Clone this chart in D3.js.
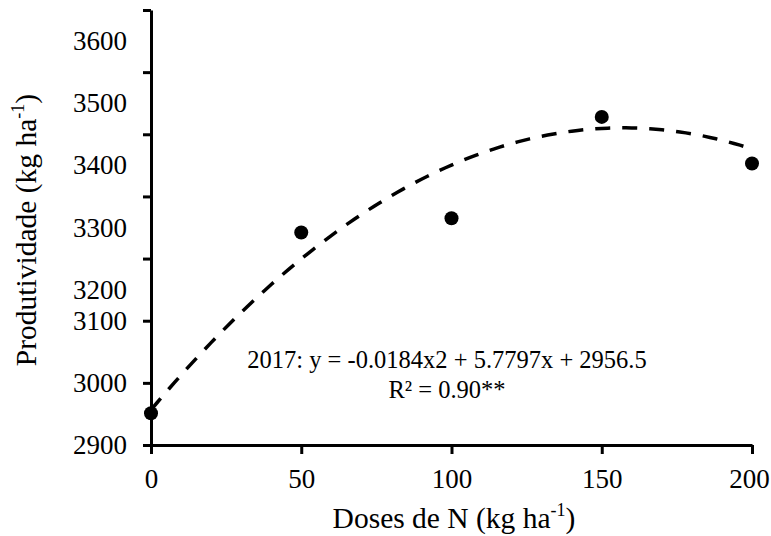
<!DOCTYPE html>
<html>
<head>
<meta charset="utf-8">
<script src="https://cdn.jsdelivr.net/npm/d3@7"></script>
<style>
  body { margin: 0; background: #fff; }
  svg text { font-family: "Liberation Serif", "Times New Roman", serif; fill: #000; }
</style>
</head>
<body>
<div class="chart"></div>
<script>
// doses (kg/ha) and yield readings
var doses = [0, 50, 100, 150, 200];
var yields = [2951, 3242, 3265, 3428, 3353];
// quadratic fit: a*x^2 + b*x + c
var coef = [-0.0184, 5.7797, 2956.5];
var xTicks = [0, 50, 100, 150, 200];
var yTicks = [2900, 3000, 3100, 3200, 3300, 3400, 3500, 3600];
var eqText = "2017: y = -0.0184x2 + 5.7797x + 2956.5";
var r2Text = "R² = 0.90**";

var W = 771, H = 536;
var margin = { top: 10, right: 19, bottom: 91, left: 151 };
var width = W - margin.left - margin.right,
    height = H - margin.top - margin.bottom;

var x = d3.scaleLinear().domain([0, 200]).range([0, width]);
var y = d3.scaleLinear().domain([2900, 3600]).range([height, 0]);

var svg = d3.select(".chart").append("svg")
    .attr("width", W)
    .attr("height", H)
    .append("g")
    .attr("transform", "translate(" + margin.left + "," + margin.top + ")");

//************************************************************
// axes
//************************************************************
var xAxis = d3.axisBottom(x)
    .tickValues(xTicks)
    .tickSize(9)
    .tickSizeOuter(0)
    .tickPadding(10)
    .tickFormat(d3.format("d"));

var yAxis = d3.axisLeft(y)
    .tickValues(yTicks)
    .tickSize(8)
    .tickSizeOuter(0)
    .tickPadding(16)
    .tickFormat(d3.format("d"));

var gx = svg.append("g")
    .attr("transform", "translate(0," + height + ")")
    .call(xAxis);

var gy = svg.append("g").call(yAxis);

[gx, gy].forEach(function (g) {
    g.attr("font-family", null);
    g.select(".domain").attr("stroke", "#000").attr("stroke-width", 3);
    g.selectAll(".tick line").attr("stroke", "#000").attr("stroke-width", 3);
    g.selectAll(".tick text").attr("font-size", 27);
});

// upper labels sit half a step below their ticks in the original
gy.selectAll(".tick text")
    .attr("dy", "0.32em")
    .attr("y", function (d) { return d >= 3200 ? y(d - 50) - y(d) : 0; });

// last label pulled in a little so it stays inside the page
gx.selectAll(".tick text")
    .attr("dy", "0.9em")
    .attr("dx", function (d) { return d === 200 ? -3 : 0; });

//************************************************************
// trend line
//************************************************************
var fit = [];
for (var v = 0; v <= 200; v += 2) {
    fit.push({ x: v, y: coef[0] * v * v + coef[1] * v + coef[2] });
}

var line = d3.line()
    .x(function (d) { return x(d.x); })
    .y(function (d) { return y(d.y); });

svg.append("path")
    .datum(fit)
    .attr("fill", "none")
    .attr("stroke", "#000")
    .attr("stroke-width", 3.5)
    .attr("stroke-dasharray", "15,12")
    .attr("d", line);

//************************************************************
// points
//************************************************************
svg.selectAll(".dot")
    .data(doses)
    .enter()
    .append("circle")
    .attr("class", "dot")
    .attr("r", 7)
    .attr("cx", function (d) { return x(d); })
    .attr("cy", function (d, i) { return y(yields[i]); })
    .attr("fill", "#000");

//************************************************************
// labels
//************************************************************
svg.append("text")
    .attr("x", 296)
    .attr("y", 358)
    .attr("text-anchor", "middle")
    .attr("font-size", 24.5)
    .text(eqText);

svg.append("text")
    .attr("x", 296)
    .attr("y", 388)
    .attr("text-anchor", "middle")
    .attr("font-size", 24.5)
    .text(r2Text);

var xt = svg.append("text")
    .attr("x", 303)
    .attr("y", 518)
    .attr("text-anchor", "middle")
    .attr("font-size", 29.5);
xt.append("tspan").text("Doses de N (kg ha");
xt.append("tspan").attr("font-size", 18).attr("dy", -12).text("-1");
xt.append("tspan").attr("dy", 12).text(")");

var yt = svg.append("text")
    .attr("transform", "translate(" + (-115) + "," + 220 + ") rotate(-90)")
    .attr("text-anchor", "middle")
    .attr("font-size", 29.5);
yt.append("tspan").text("Produtividade (kg ha");
yt.append("tspan").attr("font-size", 18).attr("dy", -12).text("-1");
yt.append("tspan").attr("dy", 12).text(")");
</script>
</body>
</html>
